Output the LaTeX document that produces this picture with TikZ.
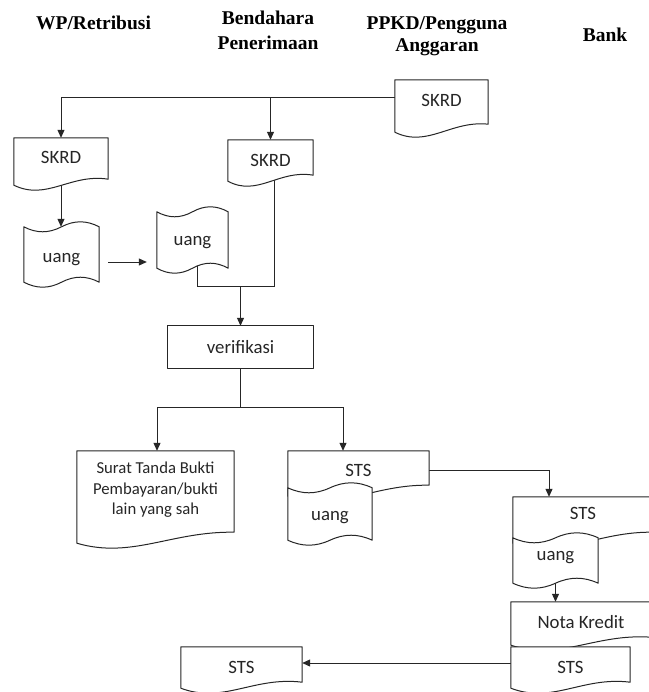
\documentclass[tikz,border=0pt]{standalone}
\usepackage{fontspec}
\setmainfont{Liberation Serif}
\newfontfamily\calfont{Carlito}
\usetikzlibrary{arrows.meta,calc}
\pgfdeclarelayer{bg}
\pgfdeclarelayer{shp}
\pgfsetlayers{bg,shp,main}

\tikzset{
  frame/.style={draw=none, inner sep=0pt, font=\calfont\fontsize{18.8}{20.5}\selectfont, text=black!85},
  hdr/.style={inner sep=0pt, anchor=base, font=\bfseries\fontsize{19.5}{24}\selectfont, text=black},
  outl/.style={draw=black!85, line width=1pt, fill=white, line join=round},
  conn/.style={draw=black!85, line width=1pt},
  arr/.style={conn, -{Triangle[length=8pt,width=7pt]}},
}

% document shape: #1 node, #2 left bottom offset, #3 right bottom offset (downwards)
\newcommand\docshape[3]{%
  \draw[outl] ($(#1.south west)+(0,#2)$) -- (#1.north west) -- (#1.north east) -- ($(#1.south east)+(0,#3)$)
    .. controls ($(#1.south west)!0.6!(#1.south east)+(0,#2-12)$) and ($(#1.south west)!0.35!(#1.south east)+(0,#2+16)$)
    .. ($(#1.south west)+(0,#2)$) -- cycle;}

% punched tape: #1 node, #2 top offset, #3 bottom offset, #4 amplitude
\newcommand\tapeshape[4]{%
  \draw[outl] ($(#1.north west)+(0,#2)$)
    .. controls ($(#1.north west)!0.17!(#1.north east)+(0,#2+1.33*#4)$) and ($(#1.north west)!0.33!(#1.north east)+(0,#2+1.33*#4)$)
    .. ($(#1.north west)!0.5!(#1.north east)+(0,#2)$)
    .. controls ($(#1.north west)!0.67!(#1.north east)+(0,#2-1.33*#4)$) and ($(#1.north west)!0.83!(#1.north east)+(0,#2-1.33*#4)$)
    .. ($(#1.north east)+(0,#2)$)
    -- ($(#1.south east)+(0,#3)$)
    .. controls ($(#1.south west)!0.83!(#1.south east)+(0,#3-1.33*#4)$) and ($(#1.south west)!0.67!(#1.south east)+(0,#3-1.33*#4)$)
    .. ($(#1.south west)!0.5!(#1.south east)+(0,#3)$)
    .. controls ($(#1.south west)!0.33!(#1.south east)+(0,#3+1.33*#4)$) and ($(#1.south west)!0.17!(#1.south east)+(0,#3+1.33*#4)$)
    .. ($(#1.south west)+(0,#3)$) -- cycle;}

\begin{document}
\begin{tikzpicture}[x=1pt, y=-1pt]
\useasboundingbox (0,0) rectangle (648,692);

% headers
\node[hdr] (hwp)  at (93.5,30) {WP/Retribusi};
\node[hdr] (hbe1) at (268,25) {Bendahara};
\node[hdr] (hbe2) at (268,50) {Penerimaan};
\node[hdr] (hpp1) at (437,30) {PPKD/Pengguna};
\node[hdr] (hpp2) at (437,52) {Anggaran};
\node[hdr] (hbk)  at (605,42) {Bank};

% nodes (frames)
\node[frame, minimum width=93pt,  minimum height=40pt] (skrdA) at (441.5,100) {SKRD};
\node[frame, minimum width=94pt,  minimum height=38pt] (skrdL) at (61,157) {SKRD};
\node[frame, minimum width=85pt,  minimum height=40pt] (skrdM) at (270.5,160) {SKRD};
\node[frame, minimum width=75pt,  minimum height=66pt] (uangL) at (61.5,260) {uang};
\node[frame, minimum width=71pt,  minimum height=62pt] (uangM) at (192.5,243) {uang};
\node[frame, minimum width=145pt, minimum height=42pt] (verif) at (240.5,347) {verifikasi};
\node[frame, minimum width=157pt, minimum height=78pt, align=center,
      font=\calfont\fontsize{16.7}{20.5}\selectfont] (surat) at (155.5,490)
      {Surat Tanda Bukti\\Pembayaran/bukti\\lain yang sah};
\node[frame, minimum width=141pt, minimum height=38pt] (stsU) at (358.5,470) {STS};
\node[frame, minimum width=84pt,  minimum height=60pt] (uangS) at (330,518) {uang};
\node[frame, minimum width=140pt, minimum height=32pt] (stsB) at (583,513) {STS};
\node[frame, minimum width=85pt,  minimum height=40pt] (uangB) at (555.5,558) {uang};
\node[frame, minimum width=140pt, minimum height=40pt] (nota) at (581,622) {Nota Kredit};
\node[frame, minimum width=119pt, minimum height=40pt] (stsN) at (570.5,667) {STS};
\node[frame, minimum width=121pt, minimum height=40pt] (stsL) at (241.5,667) {STS};

% shapes
\begin{pgfonlayer}{shp}
  \docshape{skrdA}{12}{4}
  \docshape{skrdL}{9}{3}
  \docshape{skrdM}{1}{-5}
  \tapeshape{uangL}{0}{-11}{5}
  \tapeshape{uangM}{0}{-6}{5}
  \draw[outl] (verif.north west) rectangle (verif.south east);
  \docshape{surat}{14}{3}
  \docshape{stsU}{7}{-4}
  \tapeshape{uangS}{0}{-8}{5}
  \docshape{stsB}{14}{3}
  \tapeshape{uangB}{0}{5}{5}
  \docshape{nota}{3}{-5}
  \docshape{stsN}{1}{-5}
  \docshape{stsL}{1}{-5}
\end{pgfonlayer}

% connectors
\begin{pgfonlayer}{bg}
  \fill[white] (0,0) rectangle (648,692);
  \coordinate (ln) at ($(skrdA.west)+(0,-2)$);
  \draw[arr] (ln) -| (skrdL.north);
  \draw[arr] (ln -| skrdM.north) -- (skrdM.north);
  \draw[arr] (skrdL.center) -- (skrdL.center |- uangL.north);
  \coordinate (ua) at ($(uangL.east)+(9,2)$);
  \draw[arr] (ua) -- ($(ua -| uangM.west)+(-10,0)$);
  \coordinate (jn) at ($(verif.north)+(0,-39)$);
  \draw[conn] ($(uangM.center)+(4.5,0)$) |- (jn) -| ($(skrdM.center)+(3.5,0)$);
  \draw[arr] (jn) -- (verif.north);
  \coordinate (jv) at ($(verif.south)+(0,39)$);
  \draw[conn] (verif.south) -- (jv);
  \draw[arr] (jv) -| ($(surat.north)+(1.5,0)$);
  \draw[arr] (jv) -| ($(stsU.north)+(-15.5,0)$);
  \draw[arr] (stsU.east) -| ($(stsB.north)+(-34,0)$);
  \draw[arr] (uangB.center) -- (uangB.center |- nota.north);
  \draw[arr] ($(stsN.west)+(0,-4)$) -- ($(stsL.east)+(0,-4)$);
\end{pgfonlayer}
\end{tikzpicture}
\end{document}
